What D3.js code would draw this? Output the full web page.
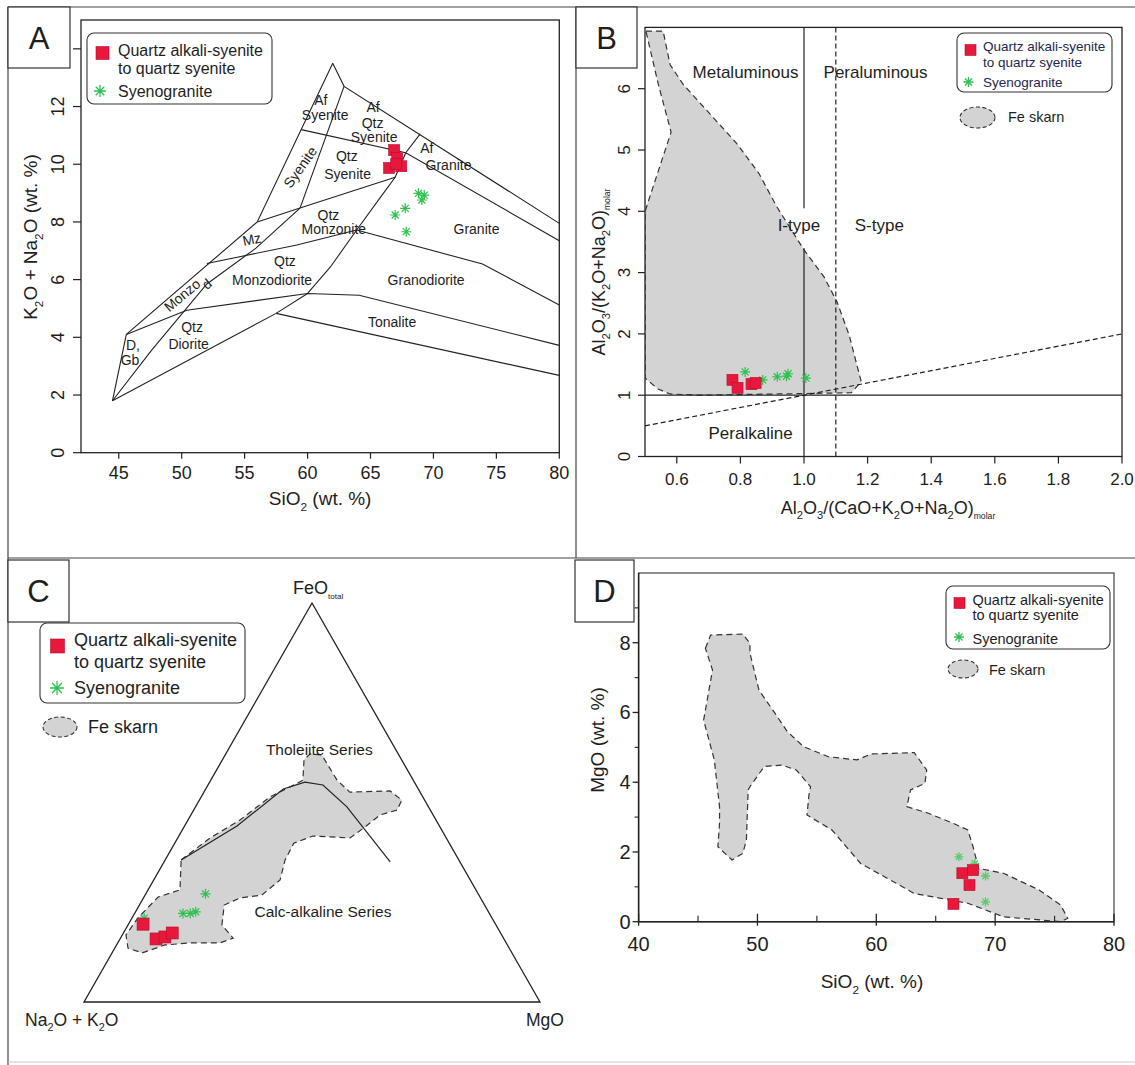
<!DOCTYPE html>
<html><head><meta charset="utf-8">
<script src="https://cdn.jsdelivr.net/npm/d3@7/dist/d3.min.js"></script>
<style>
body{margin:0;background:#fff;}
svg{display:block;}
text{font-family:"Liberation Sans",Arial,Helvetica,sans-serif;fill:#1e1e1e;}
</style></head><body>
<script>
// ================= DATA =================
// ---- Panel A : SiO2 vs Na2O+K2O (plutonic TAS) ----
const aXTicks=[45,50,55,60,65,70,75,80];
const aYTicks=[0,2,4,6,8,10,12,14];
const aYLabels=[0,2,4,6,8,10,12];
const aFieldLines=[
 [[44.5,1.8],[45.6,4.1]],
 [[45.6,4.1],[56,8.0],[62,13.5]],
 [[62,13.5],[62.9,12.7],[80,7.95]],
 [[59.5,11.2],[67.8,10.4],[80,7.35]],
 [[62.9,12.7],[59.4,8.48]],
 [[56,8.0],[59.4,8.48],[66.96,9.55]],
 [[68.95,11.05],[67.8,10.4],[66.96,9.55],[65.8,8.86],[63.9,7.72],[61.8,6.43],[60,5.52]],
 [[52,6.56],[59.15,7.2],[63.9,7.72]],
 [[63.9,7.72],[73.9,6.54],[80,5.12]],
 [[44.5,1.8],[47.6,3.55],[52,5.85],[55.9,7.09],[59.4,8.48]],
 [[45.6,4.1],[50.4,4.94],[60,5.52],[64.1,5.46],[80,3.72]],
 [[44.5,1.8],[57.5,4.83],[60,5.52]],
 [[57.5,4.83],[80,2.68]]
];
const aFieldText=["Af","Syenite","Af","Qtz","Syenite","Syenite","Qtz","Syenite","Af","Granite","Qtz","Monzonite","Granite","Mz","Qtz","Monzodiorite","Granodiorite","Monzo","d","Tonalite","Qtz","Diorite","D,","Gb"];
const aFieldX=[61.06,61.4,65.2,65.17,65.29,59.41,63.12,63.18,69.48,71.2,61.66,62.09,73.42,55.57,58.2,57.18,69.42,50.03,52.0,66.72,50.82,50.55,46.13,45.9];
const aFieldY=[12.22,11.7,11.98,11.43,10.95,9.9,10.28,9.66,10.56,9.96,8.24,7.74,7.74,7.40,6.64,5.98,6.0,5.46,5.85,4.53,4.37,3.76,3.73,3.21];
const aFieldAngle=[0,0,0,0,0,-55,0,0,0,0,0,0,0,-12,0,0,0,-40,-40,0,0,0,0,0];
const aQsSiO2=[66.88,67.12,66.48,67.44,67.04];
const aQsAlk=[10.49,10.21,9.87,9.93,10.0];
const aSgSiO2=[68.81,69.08,69.27,67.76,66.96,67.84];
const aSgAlk=[8.99,8.76,8.93,8.47,8.24,7.66];

// ---- Panel B : A/CNK vs A/NK ----
const bXTicks=[0.6,0.8,1.0,1.2,1.4,1.6,1.8,2.0];
const bYTicks=[0,1,2,3,4,5,6];
const bSolidLines=[[[0.5,1],[2.0,1]],[[1,7],[1,4.05]],[[1,3.4],[1,0]]];
const bDashedLines=[[[1.1,0],[1.1,7]],[[0.5,0.5],[2.0,2.0]]];
const bSkarnX=[0.503,0.557,0.579,0.620,0.788,0.858,0.915,1.000,1.063,1.104,1.142,1.180,1.149,0.921,0.668,0.579,0.541,0.500,0.500,0.509,0.582,0.541];
const bSkarnY=[6.94,6.94,6.39,6.07,5.11,4.62,4.07,3.37,2.93,2.52,1.98,1.22,1.04,1.02,1.00,1.02,1.10,1.28,3.99,4.14,5.29,6.09];
const bQsX=[0.775,0.791,0.835,0.848];
const bQsY=[1.25,1.12,1.18,1.20];
const bSgX=[0.815,0.870,0.916,0.945,0.95,1.006];
const bSgY=[1.38,1.25,1.30,1.31,1.35,1.28];
const bRegionText=["Metaluminous","Peraluminous","I-type","S-type","Peralkaline"];
const bRegionX=[0.816,1.225,0.984,1.237,0.832];
const bRegionY=[6.27,6.27,3.78,3.78,0.38];

// ---- Panel C : AFM ternary (A = Na2O+K2O, F = FeOtotal, M = MgO), % ----
const cBoundA=[60.9,44.4,29.6,24.0,20.4,17.9,15.3];
const cBoundF=[35.6,44.1,53.4,55.1,54.4,48.9,35.1];
const cBoundM=[3.5,11.5,17.0,20.9,25.2,33.2,49.6];
const cSkarnA=[60.9,51.8,43.0,33.5,27.9,24.2,21.4,19.3,16.9,16.7,15.4,6.4,5.0,7.3,11.6,16.4,21.1,25.3,29.0,34.1,38.1,41.7,47.6,52.7,57.1,60.1,59.3,62.8,69.3,75.1,81.1,83.6,82.4,77.6,70.6,64.9];
const cSkarnF=[35.6,41.1,45.6,51.4,53.9,55.6,60.7,62.2,61.9,55.6,52.6,52.9,50.6,48.1,46.9,43.9,41.1,41.4,41.6,39.8,35.6,30.6,26.8,26.1,24.3,19.3,16.0,14.8,14.8,14.3,12.3,13.5,16.8,21.1,26.3,28.1];
const cSkarnM=[3.5,7.1,11.4,15.1,18.2,20.2,17.9,18.5,21.2,27.7,32.0,40.7,44.4,44.6,41.5,39.7,37.8,33.3,29.4,26.1,26.3,27.7,25.6,21.2,18.6,20.6,24.7,22.4,15.9,10.6,6.6,2.9,0.8,1.3,3.1,7.0];
const cQsA=[77.3,76.3,74.1,72.0], cQsF=[19.5,15.8,16.3,17.3], cQsM=[3.2,7.9,9.6,10.7];
const cSgA=[76.3,59.8,67.2,65.6,64.2], cSgF=[21.0,27.1,22.2,22.2,22.6], cSgM=[2.7,13.1,10.6,12.2,13.2];
const cSeriesText=["Tholeiite Series","Calc-alkaline Series"];
const cSeriesA=[16.8,36.3], cSeriesF=[63.2,22.6], cSeriesM=[20.0,41.1];

// ---- Panel D : SiO2 vs MgO ----
const dXMajor=[40,50,60,70,80], dXMinor=[45,55,65,75];
const dYMajor=[0,2,4,6,8], dYMinor=[1,3,5,7,9];
const dSkarnX=[45.62,46.06,48.77,49.37,49.37,50.13,51.47,52.52,53.88,55.98,58.37,59.58,63.19,64.24,64.09,62.88,62.57,64.39,66.49,67.70,68.14,68.60,70.70,73.70,75.50,76.11,75.50,70.70,67.70,63.19,61.68,58.68,56.27,54.17,54.33,54.47,53.27,52.07,50.57,49.37,49.22,49.07,48.77,47.86,46.67,46.81,46.81,46.37,45.47,46.22];
const dSkarnY=[7.84,8.22,8.25,7.98,7.70,6.64,5.98,5.45,5.02,4.73,4.64,4.81,4.85,4.35,3.97,3.78,3.30,3.11,2.82,2.63,2.15,1.53,1.39,0.91,0.48,0.10,0.00,0.14,0.53,0.81,1.10,1.67,2.63,3.06,3.63,3.87,4.35,4.49,4.45,3.87,3.78,2.34,1.96,1.77,2.15,2.82,3.30,4.64,5.78,7.22];
const dQsX=[67.24,68.14,67.84,66.49], dQsY=[1.39,1.48,1.05,0.51];
const dSgX=[66.95,68.29,69.19,69.19,68.3], dSgY=[1.86,1.67,1.31,0.57,1.5];

const legendQs=["Quartz alkali-syenite","to quartz syenite"];
const legendSg="Syenogranite";
const legendSkarn="Fe skarn";

// ================= DRAW =================
const svg=d3.select("body").append("svg").attr("width",1135).attr("height",1065);
const INK="#222", RED="#e8183c", GREEN="#2fc150", GREY="#d3d3d3";

function rich(t,parts,fs){
  let shift=0;
  parts.forEach(p=>{
    const sp=t.append("tspan").text(p[0]);
    const isSub=p[1]==="s";
    const target=isSub?fs*0.3:0;
    if(target!==shift) sp.attr("dy",target-shift);
    shift=target;
    if(isSub) sp.attr("font-size",fs*(p[2]||0.62));
  });
}
function star(g,x,y,r,c,w){
  let d="";
  for(let i=0;i<4;i++){const a=i*Math.PI/4;d+=`M${x-r*Math.cos(a)},${y-r*Math.sin(a)}L${x+r*Math.cos(a)},${y+r*Math.sin(a)}`;}
  g.append("path").attr("d",d).attr("stroke",c).attr("stroke-width",w||1.3).attr("fill","none");
}
function square(g,x,y,s){
  g.append("rect").attr("x",x-s/2).attr("y",y-s/2).attr("width",s).attr("height",s)
   .attr("fill",RED).attr("stroke","#b3102c").attr("stroke-width",0.6);
}
function line(g,x1,y1,x2,y2,c,w){
  g.append("line").attr("x1",x1).attr("y1",y1).attr("x2",x2).attr("y2",y2).attr("stroke",c||INK).attr("stroke-width",w||1.2);
}
function legend(g,box,fs,qs,sg,txtColor,skarn){
  g.append("rect").attr("x",box.x).attr("y",box.y).attr("width",box.w).attr("height",box.h).attr("rx",7)
   .attr("fill","#fff").attr("stroke","#333").attr("stroke-width",1.1);
  square(g,qs.x,qs.y,qs.s);
  g.append("text").attr("x",qs.tx).attr("y",qs.b1).attr("font-size",fs).style("fill",txtColor).text(legendQs[0]);
  g.append("text").attr("x",qs.tx).attr("y",qs.b2).attr("font-size",fs).style("fill",txtColor).text(legendQs[1]);
  star(g,sg.x,sg.y,sg.r,GREEN);
  g.append("text").attr("x",qs.tx).attr("y",sg.b).attr("font-size",fs).style("fill",txtColor).text(legendSg);
  if(skarn){
    g.append("ellipse").attr("cx",skarn.cx).attr("cy",skarn.cy).attr("rx",skarn.rx).attr("ry",skarn.ry)
     .attr("fill",GREY).attr("stroke","#333").attr("stroke-width",1.1).attr("stroke-dasharray","4,2.5");
    g.append("text").attr("x",skarn.tx).attr("y",skarn.b).attr("font-size",skarn.fs).text(legendSkarn);
  }
}
function panelBox(x0,y0,x1,y1,lab){
  svg.append("rect").attr("x",x0).attr("y",y0).attr("width",x1-x0).attr("height",y1-y0)
    .attr("fill","#fff").attr("stroke","#333").attr("stroke-width",1.2);
  svg.append("text").attr("x",(x0+x1)/2).attr("y",(y0+y1)/2+11).attr("text-anchor","middle")
    .attr("font-size",31).text(lab);
}

// ---- outer panel borders ----
line(svg,8,7,1135,7,"#444",1.2);
line(svg,8,7,8,1065,"#444",1.2);
line(svg,576,7,576,558,"#444",1.2);
line(svg,8,558,1135,558,"#444",1.2);
line(svg,8,1062,1135,1062,"#c8c8c8",1);

// ================= PANEL A =================
{
const g=svg.append("g");
const x=d3.scaleLinear().domain([42,80]).range([81,559.3]);
const y=d3.scaleLinear().domain([0,15]).range([452.7,20]);
const ln=d3.line().x(d=>x(d[0])).y(d=>y(d[1]));
aFieldLines.forEach(l=>g.append("path").attr("d",ln(l)).attr("fill","none").attr("stroke",INK).attr("stroke-width",1.1));
aFieldText.forEach((t,i)=>{
  const px=x(aFieldX[i]),py=y(aFieldY[i]);
  g.append("text").attr("x",px).attr("y",py+5).attr("text-anchor","middle").attr("font-size",14)
   .attr("transform",aFieldAngle[i]?`rotate(${aFieldAngle[i]},${px},${py})`:null).text(t);
});
aSgSiO2.forEach((v,i)=>star(g,x(v),y(aSgAlk[i]),5,GREEN,1.2));
aQsSiO2.forEach((v,i)=>square(g,x(v),y(aQsAlk[i]),11));
// frame & ticks
g.append("rect").attr("x",x(42)).attr("y",y(15)).attr("width",x(80)-x(42)).attr("height",y(0)-y(15))
 .attr("fill","none").attr("stroke",INK).attr("stroke-width",1.3);
aXTicks.forEach(v=>{line(g,x(v),y(0),x(v),y(0)+6,INK,1.2);
  g.append("text").attr("x",x(v)).attr("y",y(0)+26).attr("text-anchor","middle").attr("font-size",18).text(v);});
aYTicks.forEach(v=>line(g,x(42)-8,y(v),x(42),y(v),INK,1.2));
aYLabels.forEach(v=>{const px=x(42)-17,py=y(v);
  g.append("text").attr("x",px).attr("y",py).attr("text-anchor","middle").attr("font-size",18)
   .attr("transform",`rotate(-90,${px},${py})`).text(v);});
const tx=g.append("text").attr("x",x(61)).attr("y",505).attr("text-anchor","middle").attr("font-size",19);
rich(tx,[["SiO"],["2","s"],[" (wt. %)"]],19);
const ty=g.append("text").attr("x",0).attr("y",0).attr("text-anchor","middle").attr("font-size",19)
  .attr("transform","translate(37,237) rotate(-90)");
rich(ty,[["K"],["2","s"],["O + Na"],["2","s"],["O (wt. %)"]],19);
legend(g,{x:87,y:33,w:185,h:71},16,{x:102.5,y:53,s:13,tx:118,b1:56,b2:74},{x:100,y:91,r:6,b:96.5},"#1e1e1e",null);
}
panelBox(8,7,70,68,"A");

// ================= PANEL B =================
{
const g=svg.append("g");
const x=d3.scaleLinear().domain([0.5,2.0]).range([645,1122]);
const y=d3.scaleLinear().domain([0,7]).range([456.5,27.4]);
const ln=d3.line().x(d=>x(d[0])).y(d=>y(d[1]));
svg.append("clipPath").attr("id","clipB").append("rect").attr("x",x(0.5)).attr("y",y(7)).attr("width",x(2)-x(0.5)).attr("height",y(0)-y(7));
const sk=bSkarnX.map((v,i)=>[v,bSkarnY[i]]);
g.append("path").attr("clip-path","url(#clipB)").attr("d",d3.line().x(d=>x(d[0])).y(d=>y(d[1])).curve(d3.curveLinearClosed)(sk))
 .attr("fill",GREY).attr("stroke","#333").attr("stroke-width",1.2).attr("stroke-dasharray","6,4");
bSolidLines.forEach(l=>g.append("path").attr("d",ln(l)).attr("fill","none").attr("stroke",INK).attr("stroke-width",1.2));
bDashedLines.forEach(l=>g.append("path").attr("d",ln(l)).attr("fill","none").attr("stroke",INK).attr("stroke-width",1.2).attr("stroke-dasharray","5,3"));
bRegionText.forEach((t,i)=>g.append("text").attr("x",x(bRegionX[i])).attr("y",y(bRegionY[i])+6).attr("text-anchor","middle").attr("font-size",17).text(t));
bSgX.forEach((v,i)=>star(g,x(v),y(bSgY[i]),5,GREEN,1.2));
bQsX.forEach((v,i)=>square(g,x(v),y(bQsY[i]),11));
g.append("rect").attr("x",x(0.5)).attr("y",y(7)).attr("width",x(2)-x(0.5)).attr("height",y(0)-y(7))
 .attr("fill","none").attr("stroke",INK).attr("stroke-width",1.3);
bXTicks.forEach(v=>{line(g,x(v),y(0),x(v),y(0)+7,INK,1.2);
  g.append("text").attr("x",x(v)).attr("y",y(0)+28).attr("text-anchor","middle").attr("font-size",17).text(d3.format(".1f")(v));});
bYTicks.forEach(v=>{line(g,x(0.5)-7,y(v),x(0.5),y(v),INK,1.2);
  const px=x(0.5)-15,py=y(v);
  g.append("text").attr("x",px).attr("y",py).attr("text-anchor","middle").attr("font-size",17)
   .attr("transform",`rotate(-90,${px},${py})`).text(v);});
const tx=g.append("text").attr("x",888).attr("y",514).attr("text-anchor","middle").attr("font-size",18);
rich(tx,[["Al"],["2","s"],["O"],["3","s"],["/(CaO+K"],["2","s"],["O+Na"],["2","s"],["O)"],["molar","s",0.48]],18);
const ty=g.append("text").attr("x",0).attr("y",0).attr("text-anchor","middle").attr("font-size",18)
  .attr("transform","translate(605,272) rotate(-90)");
rich(ty,[["Al"],["2","s"],["O"],["3","s"],["/(K"],["2","s"],["O+Na"],["2","s"],["O)"],["molar","s",0.48]],18);
legend(g,{x:957,y:33,w:155,h:59},13.5,{x:970.5,y:50,s:11,tx:983,b1:51,b2:66.5},{x:968.5,y:82,r:5,b:86.5},"#26264f",
  {cx:977.5,cy:117.5,rx:17.5,ry:10.5,tx:1008,b:122,fs:14.5});
}
panelBox(576,7,637,68,"B");

// ================= PANEL C =================
{
const g=svg.append("g");
const sx=d3.scaleLinear().domain([0,100]).range([84,540]);   // M + F/2
const sy=d3.scaleLinear().domain([0,100]).range([1002,603]); // F
const P=(a,f,m)=>{const s=a+f+m;const ff=f/s*100,mm=m/s*100;return [sx(mm+ff/2),sy(ff)];};
const sk=cSkarnA.map((a,i)=>P(a,cSkarnF[i],cSkarnM[i]));
g.append("path").attr("d",d3.line().curve(d3.curveLinearClosed)(sk))
 .attr("fill",GREY).attr("stroke","#333").attr("stroke-width",1.2).attr("stroke-dasharray","6,4");
const tri=[P(100,0,0),P(0,100,0),P(0,0,100)];
g.append("path").attr("d",d3.line().curve(d3.curveLinearClosed)(tri)).attr("fill","none").attr("stroke",INK).attr("stroke-width",1.3);
const bd=cBoundA.map((a,i)=>P(a,cBoundF[i],cBoundM[i]));
g.append("path").attr("d",d3.line()(bd)).attr("fill","none").attr("stroke",INK).attr("stroke-width",1.2);
cSeriesText.forEach((t,i)=>{const p=P(cSeriesA[i],cSeriesF[i],cSeriesM[i]);
  g.append("text").attr("x",p[0]).attr("y",p[1]+5).attr("text-anchor","middle").attr("font-size",15.5).text(t);});
cSgA.forEach((a,i)=>{const p=P(a,cSgF[i],cSgM[i]);star(g,p[0],p[1],5,GREEN,1.2);});
cQsA.forEach((a,i)=>{const p=P(a,cQsF[i],cQsM[i]);square(g,p[0],p[1],12);});
const tf=g.append("text").attr("x",tri[1][0]-19).attr("y",tri[1][1]-9).attr("font-size",18);
rich(tf,[["FeO"],["total","s",0.45]],18);
const ta=g.append("text").attr("x",25).attr("y",1026).attr("font-size",17.5);
rich(ta,[["Na"],["2","s"],["O + K"],["2","s"],["O"]],17.5);
g.append("text").attr("x",526).attr("y",1026).attr("font-size",17.5).text("MgO");
legend(g,{x:40,y:623,w:205,h:80},18,{x:57.5,y:646,s:14,tx:74,b1:646,b2:668},{x:57,y:688,r:7,b:694},"#1e1e1e",
  {cx:60,cy:727,rx:17,ry:10,tx:88,b:733,fs:18});
}
panelBox(8,560,69,622,"C");

// ================= PANEL D =================
{
const g=svg.append("g");
const x=d3.scaleLinear().domain([40,80]).range([638.6,1114]);
const y=d3.scaleLinear().domain([0,10]).range([921.7,573]);
const sk=dSkarnX.map((v,i)=>[v,dSkarnY[i]]);
g.append("path").attr("d",d3.line().x(d=>x(d[0])).y(d=>y(d[1])).curve(d3.curveLinearClosed)(sk))
 .attr("fill",GREY).attr("stroke","#333").attr("stroke-width",1.2).attr("stroke-dasharray","6,4");
dSgX.forEach((v,i)=>star(g,x(v),y(dSgY[i]),4.5,"#59cc6b",1.3));
dQsX.forEach((v,i)=>square(g,x(v),y(dQsY[i]),11));
g.append("rect").attr("x",x(40)).attr("y",y(10)).attr("width",x(80)-x(40)).attr("height",y(0)-y(10))
 .attr("fill","none").attr("stroke","#444").attr("stroke-width",1.2);
line(g,x(40),y(0),x(80),y(0),INK,1.5);
line(g,x(40),y(0),x(40),y(10),INK,1.5);
dXMajor.forEach(v=>{line(g,x(v),y(0)-8,x(v),y(0)+4,INK,1.3);
  g.append("text").attr("x",x(v)).attr("y",y(0)+29).attr("text-anchor","middle").attr("font-size",20).text(v);});
dXMinor.forEach(v=>line(g,x(v),y(0)-6,x(v),y(0),INK,1.1));
dYMajor.forEach(v=>{line(g,x(40)-6,y(v),x(40),y(v),INK,1.3);
  g.append("text").attr("x",x(40)-8).attr("y",y(v)+7).attr("text-anchor","end").attr("font-size",20).text(v);});
dYMinor.forEach(v=>line(g,x(40)-4,y(v),x(40),y(v),INK,1.1));
const tx=g.append("text").attr("x",872).attr("y",988).attr("text-anchor","middle").attr("font-size",19);
rich(tx,[["SiO"],["2","s"],[" (wt. %)"]],19);
g.append("text").attr("text-anchor","middle").attr("font-size",19).attr("transform","translate(604,740) rotate(-90)").text("MgO (wt. %)");
legend(g,{x:946,y:586,w:164,h:63},14.5,{x:959.5,y:603,s:11,tx:972.5,b1:604.5,b2:620},{x:959,y:637,r:5,b:643.5},"#1e1e1e",
  {cx:963,cy:669,rx:15,ry:9,tx:989,b:674.5,fs:14.5});
}
panelBox(575,560,634,622,"D");
</script></body></html>
